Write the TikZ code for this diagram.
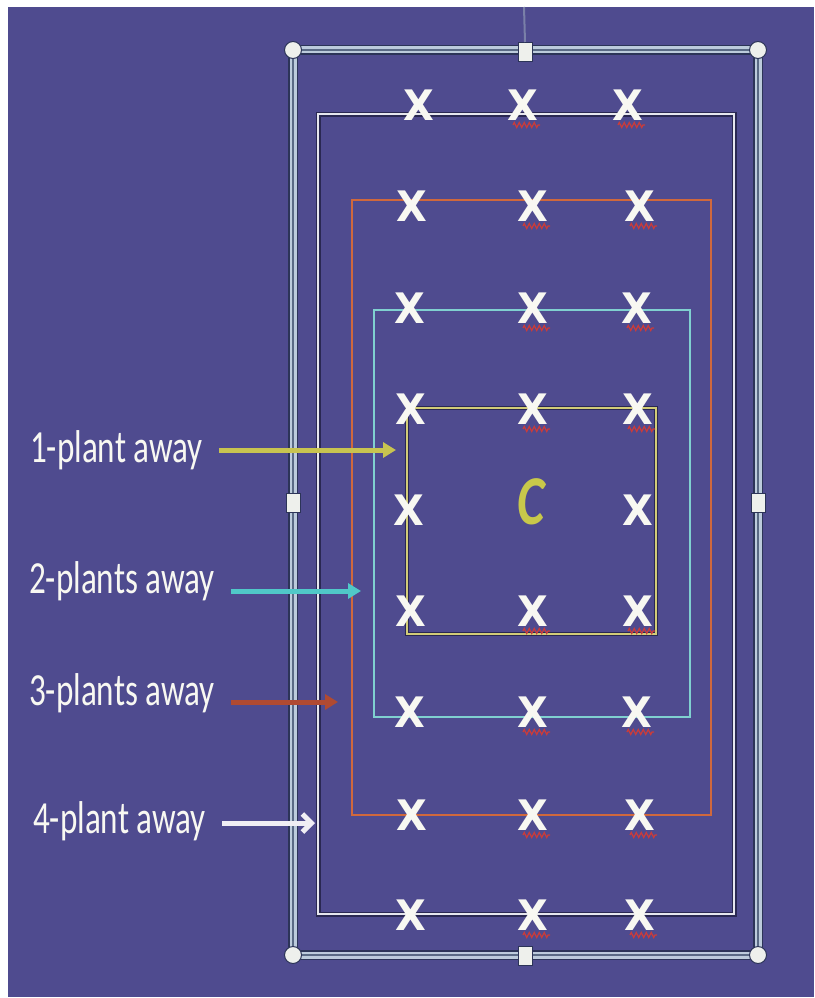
\documentclass[tikz,border=0pt]{standalone}
\usepackage{fontspec}
\usetikzlibrary{arrows.meta,decorations.pathmorphing}
\newfontfamily\labfont[FakeStretch=0.72]{Carlito}
\newfontfamily\cfont[FakeStretch=0.75]{Carlito}
\newfontfamily\xfont[FakeStretch=0.95]{DejaVu Sans}
\definecolor{bgc}{HTML}{4F4B8F}
\definecolor{edgedark}{HTML}{2A2852}
\definecolor{wline}{HTML}{E6E6EE}
\definecolor{oline}{HTML}{D0683C}
\definecolor{cline}{HTML}{80D0D0}
\definecolor{yline}{HTML}{D2CC78}
\definecolor{yarr}{HTML}{C8C450}
\definecolor{carr}{HTML}{50C8C8}
\definecolor{oarr}{HTML}{B04A32}
\definecolor{warr}{HTML}{F0EEF4}
\definecolor{xwhite}{HTML}{F8F8F2}
\definecolor{cyel}{HTML}{C8C84A}
\definecolor{fdark}{HTML}{2C3458}
\definecolor{flight}{HTML}{BCCBDC}
\definecolor{fmid}{HTML}{5A6A85}
\definecolor{hfill}{HTML}{EEF0EC}
\definecolor{rotc}{HTML}{7A80A8}
\definecolor{squigc}{HTML}{C83C3C}
\tikzset{
  lab/.style={font=\labfont\fontsize{46}{46}\selectfont, text=xwhite, inner sep=0pt, anchor=base west},
  xm/.style={font=\xfont\bfseries\fontsize{42}{42}\selectfont, text=xwhite, inner sep=0pt},
  cmark/.style={font=\cfont\bfseries\itshape\fontsize{70}{70}\selectfont, text=cyel, inner sep=0pt},
  squig/.style={draw=squigc, line width=1.3pt, decorate, decoration={zigzag, segment length=5pt, amplitude=2.5pt}},
  arrbase/.style={line width=5pt, shorten <=16pt},
  filledarr/.style={arrbase, -{Triangle[length=13pt,width=15pt]}},
  openarr/.style={arrbase, -{Straight Barb[length=9pt,width=18pt]}},
  handlebox/.style={rectangle, minimum width=14pt, minimum height=19pt, fill=hfill, draw=fdark, line width=1pt, inner sep=0pt},
  cornerdot/.style={circle, minimum size=17pt, fill=hfill, draw=fdark, line width=1pt, inner sep=0pt},
}
\begin{document}
\begin{tikzpicture}[x=1pt,y=-1pt]
\useasboundingbox (0,0) rectangle (814,998);
\fill[white] (0,0) rectangle (814,998);
\fill[bgc] (8,7) rectangle (814,997);

% nested rectangles
\draw[edgedark, line width=5pt] (318,114) rectangle (734,914);
\draw[wline, line width=2.6pt] (318,114) rectangle (734,914);
\draw[oline, line width=2pt] (352,200) rectangle (711,815);
\draw[cline, line width=2pt] (374,310) rectangle (690,717);
\draw[edgedark, line width=4.5pt] (407,408) rectangle (656,634);
\draw[yline, line width=2.4pt] (407,408) rectangle (656,634);

% outer selection frame
\draw[fdark, line width=10pt] (293,50) rectangle (758,955);
\draw[flight, line width=7pt] (293,50) rectangle (758,955);
\draw[fmid, line width=1.2pt] (293,50) rectangle (758,955);
\coordinate (rot) at (524,7);
\node[cornerdot] (k1) at (293,50) {};
\node[cornerdot] (k2) at (758,50) {};
\node[cornerdot] (k3) at (293,955) {};
\node[cornerdot] (k4) at (758,955) {};
\node[handlebox] (h1) at (525,52) {};
\node[handlebox] (h2) at (293,503) {};
\node[handlebox] (h3) at (758,503) {};
\node[handlebox] (h4) at (525,956) {};
\draw[rotc, line width=2pt] (rot) -- (h1.north);

% squiggles under the marks
\foreach \px/\py in {523/105,628/105,
  533/206,640/206, 533/308,637/308, 533/409,638/409,
  533/611,638/611, 533/712,637/712, 533/815,640/815, 533/915,640/915}{
  \draw[squig] (\px-10,\py+20) -- (\px+17,\py+20);
}

% X marks
\foreach \px/\py/\nm in {419/105/a1,523/105/a2,628/105/a3,
  412/206/b1,533/206/b2,640/206/b3,
  410/308/c1,533/308/c2,637/308/c3,
  411/409/d1,533/409/d2,638/409/d3,
  409/510/e1,638/510/e3,
  411/611/f1,533/611/f2,638/611/f3,
  410/712/g1,533/712/g2,637/712/g3,
  412/815/h1x,533/815/h2x,640/815/h3x,
  411/915/i1,533/915/i2,640/915/i3}{
  \node[xm] (x\nm) at (\px,\py) {X};
}
\node[cmark] (cc) at (531,502) {C};

% labels
\node[lab] (l1) at (30,462) {1-plant away};
\node[lab] (l2) at (29,593) {2-plants away};
\node[lab] (l3) at (29,705) {3-plants away};
\node[lab] (l4) at (33,833) {4-plant away};

% arrows
\coordinate (t1) at (396,450);
\coordinate (t2) at (361,591);
\coordinate (t3) at (338,702);
\coordinate (t4) at (315,823);
\draw[filledarr, yarr] (l1.east |- t1) -- (t1);
\draw[filledarr, carr] (l2.east |- t2) -- (t2);
\draw[filledarr, oarr] (l3.east |- t3) -- (t3);
\draw[openarr, warr] (l4.east |- t4) -- (t4);
\end{tikzpicture}
\end{document}
